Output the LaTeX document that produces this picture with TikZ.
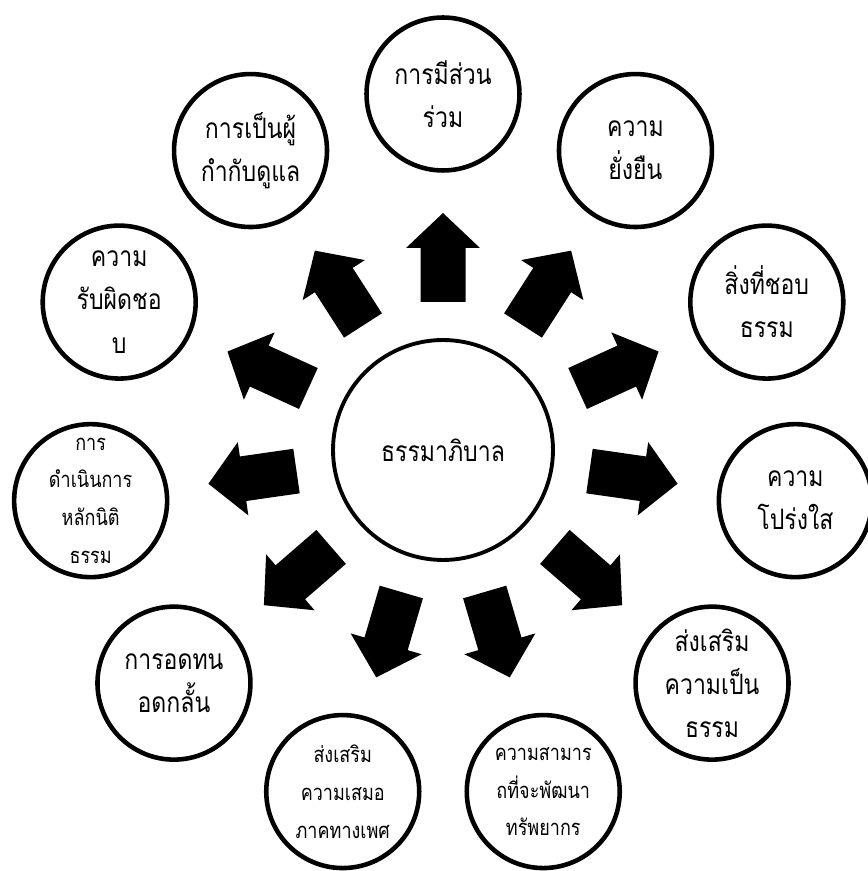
\documentclass[tikz,border=0pt]{standalone}
\usepackage{fontspec}
\newfontfamily\thaifont[Script=Thai, FakeStretch=0.82]{Loma}
\usepackage{tikz}

\tikzset{
  topic/.style={circle, draw, line width=2.6pt, minimum size=3.06cm, inner sep=0pt,
    align=center, font=\thaifont\fontsize{16}{24.5}\selectfont},
  topicsmall/.style={topic, font=\thaifont\fontsize{12.5}{21.5}\selectfont},
  hub/.style={circle, draw, line width=2.2pt, minimum size=4.4cm, inner sep=0pt,
    font=\thaifont\fontsize{16}{24.5}\selectfont},
  blockarrow/.style={fill=black}
}

\begin{document}
\begin{tikzpicture}[x=0.02cm, y=0.02cm]

\useasboundingbox (-443,-421) rectangle (424,450);

\node[hub] (gov) at (0,0) {ธรรมาภิบาล};

\node[topic] (part) at (90:356) {การมีส่วน\\ร่วม};
\node[topic] (sustain) at (57.27:356) {ความ\\ยั่งยืน};
\node[topic] (right) at (24.55:356) {สิ่งที่ชอบ\\ธรรม};
\node[topic] (transp) at (-8.18:356) {ความ\\โปร่งใส};
\node[topic] (fair) at (-40.91:356) {ส่งเสริม\\ความเป็น\\ธรรม};
\node[topicsmall] (capa) at (-73.64:356) {ความสามาร\\ถที่จะพัฒนา\\ทรัพยากร};
\node[topicsmall] (gender) at (-106.36:356) {ส่งเสริม\\ความเสมอ\\ภาคทางเพศ};
\node[topic] (toler) at (-139.09:356) {การอดทน\\อดกลั้น};
\node[topicsmall] (law) at (-171.82:356) {การ\\ดำเนินการ\\หลักนิติ\\ธรรม};
\node[topic] (resp) at (155.45:356) {ความ\\รับผิดชอ\\บ};
\node[topic] (super) at (122.73:356) {การเป็นผู้\\กำกับดูแล};

\foreach \a in {90,57.27,24.55,-8.18,-40.91,-73.64,-106.36,-139.09,-171.82,155.45,122.73}
  \fill[blockarrow, rotate=\a] (148,-22.5) -- (202,-22.5) -- (202,-37) -- (237,0)
    -- (202,37) -- (202,22.5) -- (148,22.5) -- cycle;

\end{tikzpicture}
\end{document}
